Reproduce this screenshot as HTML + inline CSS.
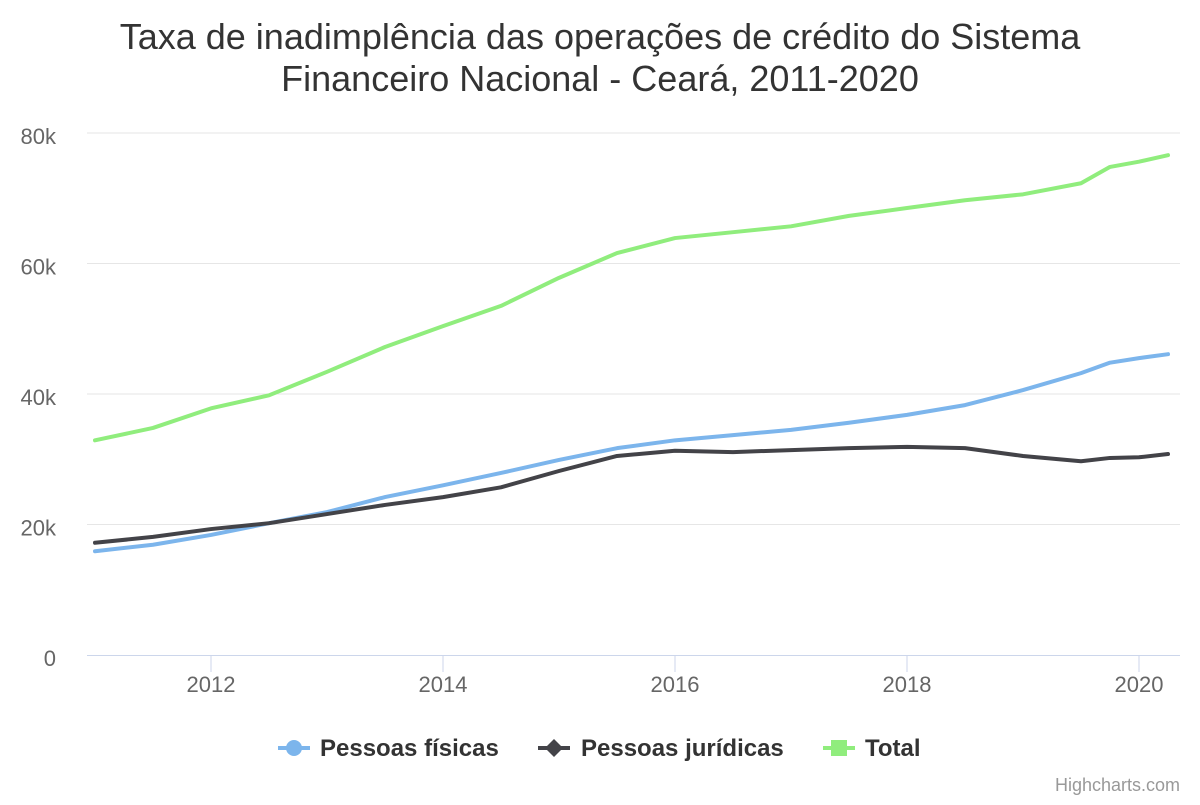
<!DOCTYPE html>
<html><head><meta charset="utf-8"><style>
body{margin:0;background:#fff;font-family:"Liberation Sans",sans-serif}
</style></head><body>
<svg id="c" width="1200" height="800" xmlns="http://www.w3.org/2000/svg" style="font-family:'Liberation Sans',sans-serif">
<rect width="1200" height="800" fill="#fff"/>
<text x="600" y="49" text-anchor="middle" font-size="36" fill="#333">Taxa de inadimplência das operações de crédito do Sistema</text>
<text x="600" y="91" text-anchor="middle" font-size="36" fill="#333">Financeiro Nacional - Ceará, 2011-2020</text>
<g id="grid"></g><g id="series"></g>
<g font-size="24" font-weight="bold" fill="#333">
 <g><line x1="278" x2="310" y1="748" y2="748" stroke="#7cb5ec" stroke-width="4"/><circle cx="294" cy="748" r="8" fill="#7cb5ec"/><text x="320" y="756">Pessoas físicas</text></g>
 <g><line x1="538" x2="570" y1="748" y2="748" stroke="#434348" stroke-width="4"/><path d="M554 739 L563 748 L554 757 L545 748Z" fill="#434348"/><text x="581" y="756">Pessoas jurídicas</text></g>
 <g><line x1="823" x2="855" y1="748" y2="748" stroke="#90ed7d" stroke-width="4"/><rect x="831" y="740" width="16" height="16" fill="#90ed7d"/><text x="865" y="756">Total</text></g>
</g>
<text x="1180" y="791" text-anchor="end" font-size="18" fill="#999">Highcharts.com</text>
</svg>
<script>
const years=[2011,2011.5,2012,2012.5,2013,2013.5,2014,2014.5,2015,2015.5,2016,2016.5,2017,2017.5,2018,2018.5,2019,2019.5,2019.75,2020,2020.25];
const fisicas=[15.9,16.9,18.4,20.2,21.9,24.2,26.0,27.9,29.9,31.7,32.9,33.7,34.5,35.6,36.8,38.3,40.6,43.2,44.8,45.5,46.1];
const juridicas=[17.2,18.1,19.3,20.2,21.6,23.0,24.2,25.7,28.2,30.5,31.3,31.1,31.4,31.7,31.9,31.7,30.5,29.7,30.2,30.3,30.8];
const total=[32.9,34.8,37.8,39.8,43.4,47.2,50.4,53.5,57.8,61.6,63.9,64.8,65.7,67.3,68.5,69.7,70.6,72.3,74.8,75.6,76.6];
const yTicks=[0,20,40,60,80];
const yLabels=["0","20k","40k","60k","80k"];
const xTicks=[2012,2014,2016,2018,2020];
const NS="http://www.w3.org/2000/svg";
const X=v=>211+(v-2012)*116, Y=v=>655-v*522/80;
const g=document.getElementById('grid'), s=document.getElementById('series');
function el(t,a,p){const e=document.createElementNS(NS,t);for(const k in a)e.setAttribute(k,a[k]);p.appendChild(e);return e;}
yTicks.forEach((t,i)=>{
 if(t>0){const l=el('line',{x1:87,x2:1180,y1:Y(t),y2:Y(t),stroke:'#e6e6e6','stroke-width':1},g);
 
 }
 const tx=el('text',{x:56,y:Y(t)+11,'text-anchor':'end','font-size':22,fill:'#666'},g);tx.textContent=yLabels[i];
 
 
});
const ax=el('line',{x1:87,x2:1180,y1:655.5,y2:655.5,stroke:'#ccd6eb','stroke-width':1},g);


xTicks.forEach(t=>{
 el('line',{x1:X(t),x2:X(t),y1:655,y2:672,stroke:'#ccd6eb'},g);
 const tx=el('text',{x:X(t),y:692,'text-anchor':'middle','font-size':22,fill:'#666'},g);tx.textContent=t;
 
 
});
[[total,'#90ed7d','total'],[fisicas,'#7cb5ec','fisicas'],[juridicas,'#434348','juridicas']].forEach(([d,c,n])=>{
 const p=el('polyline',{points:d.map((v,i)=>X(years[i])+','+Y(v)).join(' '),fill:'none',stroke:c,'stroke-width':4,'stroke-linejoin':'round','stroke-linecap':'round'},s);
 
 
});
</script>
</body></html>
